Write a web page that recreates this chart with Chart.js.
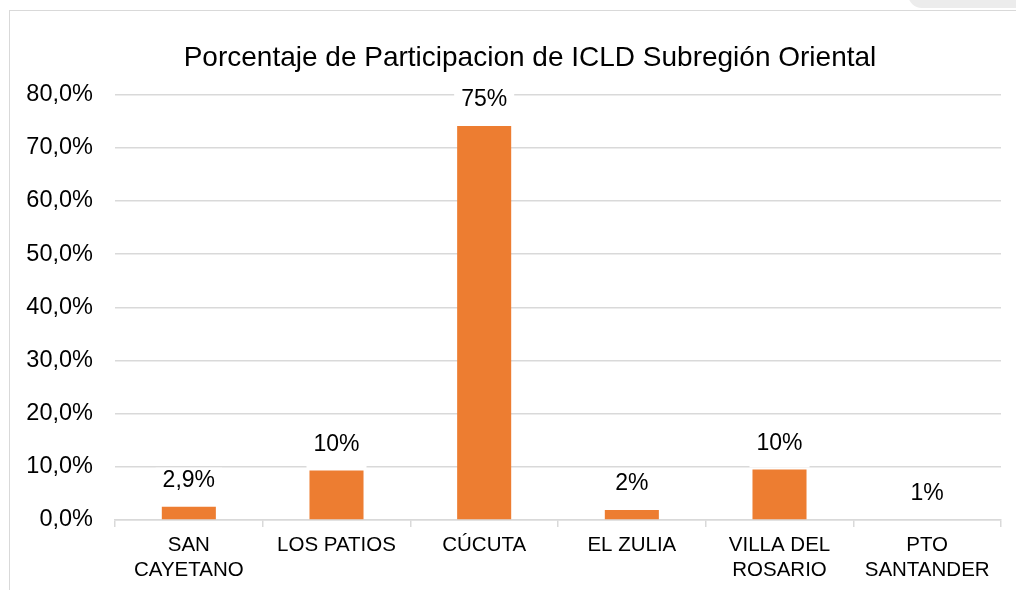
<!DOCTYPE html>
<html>
<head>
<meta charset="utf-8">
<script src="https://cdn.jsdelivr.net/npm/chart.js@4/dist/chart.umd.min.js"></script>
<style>
  html, body { margin: 0; padding: 0; background: #fff; overflow: hidden; width: 1016px; height: 590px; }
  #marco { position: absolute; left: 9px; top: 10px; width: 1100px; height: 700px; border: 1.5px solid #d9d9d9; box-sizing: border-box; }
  #pestana { position: absolute; left: 908px; top: -22px; width: 140px; height: 30px; background: #ececec; border-radius: 14px; color: #b5b5b5; font: 15px "Liberation Sans", Arial, sans-serif; padding: 6px 0 0 14px; box-sizing: border-box; letter-spacing: 1px; }
  #grafico { position: absolute; left: 0; top: 0; }
</style>
</head>
<body>
<div id="marco"></div>
<div id="pestana">PÁGINA</div>
<canvas id="grafico" width="1016" height="590"></canvas>
<script>
// datos
const municipios = [['SAN', 'CAYETANO'], 'LOS PATIOS', 'CÚCUTA', 'EL ZULIA', ['VILLA DEL', 'ROSARIO'], ['PTO', 'SANTANDER']];
const participacion = [2.5, 9.3, 74.1, 1.9, 9.5, 0];
const etiquetas = ['2,9%', '10%', '75%', '2%', '10%', '1%'];
const tituloGrafico = 'Porcentaje de Participacion de ICLD Subregión Oriental';

const fuente = '"Liberation Sans", Arial, sans-serif';

// titulo centrado sobre el marco del grafico (no sobre el canvas)
const tituloPropio = {
    id: 'tituloPropio',
    afterDraw(chart) {
        const ctx = chart.ctx;
        ctx.save();
        ctx.font = '28px ' + fuente;
        ctx.fillStyle = '#000000';
        ctx.textAlign = 'center';
        ctx.textBaseline = 'middle';
        ctx.fillText(tituloGrafico, 530, 58);
        ctx.restore();
    }
};

// etiquetas de datos con fondo blanco encima de cada barra
const etiquetasBarras = {
    id: 'etiquetasBarras',
    afterDatasetsDraw(chart) {
        const ctx = chart.ctx;
        const barras = chart.getDatasetMeta(0).data;
        ctx.save();
        ctx.font = '23px ' + fuente;
        ctx.textAlign = 'center';
        ctx.textBaseline = 'middle';
        barras.forEach((barra, i) => {
            const texto = etiquetas[i];
            const ancho = ctx.measureText(texto).width + 14;
            const yTexto = barra.y - 26;
            ctx.fillStyle = '#ffffff';
            ctx.fillRect(barra.x - ancho / 2, yTexto - 13, ancho, 37);
            ctx.fillStyle = '#000000';
            ctx.fillText(texto, barra.x, yTexto);
        });
        ctx.restore();
    }
};

const ctx = document.getElementById('grafico').getContext('2d');
new Chart(ctx, {
    type: 'bar',
    data: {
        labels: municipios,
        datasets: [{
            label: 'Participación',
            data: participacion,
            backgroundColor: '#ED7D31',
            borderWidth: 0,
            barPercentage: 0.366,
            categoryPercentage: 1
        }]
    },
    options: {
        responsive: false,
        animation: false,
        devicePixelRatio: 1,
        layout: { padding: { top: 94.6, left: 0, right: 15, bottom: 0 } },
        plugins: {
            legend: { display: false },
            tooltip: { enabled: false },
            title: { display: false }
        },
        scales: {
            x: {
                offset: true,
                grid: {
                    offset: true,
                    drawOnChartArea: false,
                    drawTicks: true,
                    tickLength: 7,
                    color: '#d9d9d9',
                    lineWidth: 1.5
                },
                border: { color: '#d9d9d9', width: 1.5 },
                ticks: {
                    color: '#000000',
                    font: { family: fuente, size: 20.5, lineHeight: 1.22 },
                    padding: 6,
                    maxRotation: 0,
                    autoSkip: false
                },
                afterFit(scale) { scale.height = 70; }
            },
            y: {
                min: 0,
                max: 80,
                grid: { color: '#d9d9d9', lineWidth: 1.5, drawTicks: false },
                border: { display: false },
                ticks: {
                    stepSize: 10,
                    color: '#000000',
                    font: { family: fuente, size: 23.5 },
                    padding: 22,
                    callback: v => v.toFixed(1).replace('.', ',') + '%'
                },
                afterFit(scale) { scale.width = 115; }
            }
        }
    },
    plugins: [etiquetasBarras, tituloPropio]
});
</script>
</body>
</html>
